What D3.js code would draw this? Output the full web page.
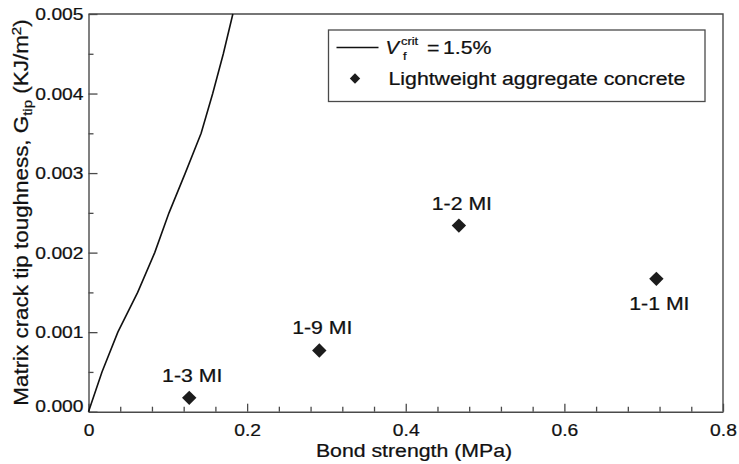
<!DOCTYPE html>
<html>
<head>
<meta charset="utf-8">
<script src="https://cdn.jsdelivr.net/npm/d3@7"></script>
<style>
  html, body { margin: 0; padding: 0; background: #fff; }
  svg { display: block; font-family: "Liberation Sans", Arial, Helvetica, sans-serif; }
</style>
</head>
<body>
<svg id="chart" width="739" height="464"></svg>
<script>
// ---- data ----
const xTickValues = [0, 0.2, 0.4, 0.6, 0.8];
const xTickLabels = ["0", "0.2", "0.4", "0.6", "0.8"];
const yTickValues = [0, 0.001, 0.002, 0.003, 0.004, 0.005];
const yTickLabels = ["0.000", "0.001", "0.002", "0.003", "0.004", "0.005"];
const xMinorTicks = [0.04, 0.08, 0.12, 0.16, 0.24, 0.28, 0.32, 0.36, 0.44, 0.48, 0.52, 0.56, 0.64, 0.68, 0.72, 0.76];
const yMinorTicks = [0.0005, 0.0015, 0.0025, 0.0035, 0.0045];

// V_f^crit = 1.5% curve
const curveBond = [0, 0.017, 0.037, 0.062, 0.0835, 0.1015, 0.122, 0.142, 0.1566, 0.170, 0.182];
const curveToughness = [0, 0.0005, 0.001, 0.0015, 0.002, 0.0025, 0.003, 0.0035, 0.004, 0.0045, 0.005];

// Lightweight aggregate concrete samples
const sampleNames = ["1-3 MI", "1-9 MI", "1-2 MI", "1-1 MI"];
const sampleBond = [0.127, 0.291, 0.467, 0.716];
const sampleToughness = [0.000174, 0.00077, 0.00234, 0.00167];
const sampleLabelSide = ["above", "above", "above", "below"];

// ---- layout ----
const SX = 1.12; // horizontal glyph stretch
const svg = d3.select("#chart");
const plotLeft = 88.5, plotRight = 723, plotTop = 14, plotBottom = 411.7;
const x = d3.scaleLinear().domain([0, 0.8]).range([plotLeft, plotRight]);
const y = d3.scaleLinear().domain([0, 0.005]).range([plotBottom, plotTop]);
const axisColor = "#4a4a4a";
const textColor = "#111";

function stretchedText(parent, px, py, str, opts = {}) {
  const g = parent.append("g")
    .attr("transform", `translate(${px},${py})${opts.rotate ? ` rotate(${opts.rotate})` : ""} scale(${SX},1)`);
  const t = g.append("text")
    .attr("x", 0).attr("y", 0)
    .attr("fill", textColor)
    .attr("stroke", textColor).attr("stroke-width", 0.25)
    .attr("font-size", opts.size || 19)
    .attr("text-anchor", opts.anchor || "start");
  if (opts.italic) t.attr("font-style", "italic");
  if (str !== null) t.text(str);
  return t;
}

// frame (top & right)
svg.append("path")
  .attr("d", `M${plotLeft},${plotTop}H${plotRight}V${plotBottom}`)
  .attr("fill", "none").attr("stroke", axisColor).attr("stroke-width", 1.4);

// bottom axis major
const xAxis = svg.append("g").attr("transform", `translate(0,${plotBottom})`)
  .call(d3.axisBottom(x).tickValues(xTickValues)
    .tickFormat((d, i) => xTickLabels[i]).tickSizeInner(-8).tickSizeOuter(0).tickPadding(12));
// bottom axis minor
svg.append("g").attr("transform", `translate(0,${plotBottom})`)
  .call(d3.axisBottom(x).tickValues(xMinorTicks).tickFormat("").tickSizeInner(-5).tickSizeOuter(0))
  .call(g => g.select(".domain").remove());

// left axis major
const yAxis = svg.append("g").attr("transform", `translate(${plotLeft},0)`)
  .call(d3.axisLeft(y).tickValues(yTickValues)
    .tickFormat((d, i) => yTickLabels[i]).tickSizeInner(-9).tickSizeOuter(0).tickPadding(5));
svg.append("g").attr("transform", `translate(${plotLeft},0)`)
  .call(d3.axisLeft(y).tickValues(yMinorTicks).tickFormat("").tickSizeInner(-5).tickSizeOuter(0))
  .call(g => g.select(".domain").remove());

svg.selectAll(".domain").attr("stroke", axisColor).attr("stroke-width", 1.4);
svg.selectAll(".tick line").attr("stroke", axisColor).attr("stroke-width", 1.3);
svg.selectAll(".tick text")
  .attr("fill", textColor)
  .attr("stroke", textColor).attr("stroke-width", 0.25)
  .attr("font-size", 17.2)
  .attr("font-family", "'Liberation Sans', Arial, sans-serif")
  .attr("transform", `scale(${SX},1)`);
yAxis.selectAll(".tick text").attr("x", -5 / SX)
  .filter(d => d === 0).attr("dy", "0.0em");

// curve
const line = d3.line().x(d => x(d[0])).y(d => y(d[1]));
svg.append("path")
  .datum(curveBond.map((b, i) => [b, curveToughness[i]]))
  .attr("d", line)
  .attr("fill", "none").attr("stroke", "#111").attr("stroke-width", 1.6);

// diamonds
function diamond(r) { return `M0,${-r}L${r},0L0,${r}L${-r},0Z`; }
const samples = sampleNames.map((n, i) => ({ name: n, bx: sampleBond[i], ty: sampleToughness[i], side: sampleLabelSide[i] }));
svg.selectAll(".pt").data(samples).join("path")
  .attr("class", "pt")
  .attr("transform", d => `translate(${x(d.bx)},${y(d.ty)})`)
  .attr("d", diamond(7.2))
  .attr("fill", "#1c1c1c");

samples.forEach(d => {
  const px = x(d.bx) + 3;
  const py = y(d.ty) + (d.side === "above" ? -16 : 31.5);
  stretchedText(svg, px, py, d.name, { anchor: "middle", size: 19 });
});

// axis titles
stretchedText(svg, 414, 457, "Bond strength (MPa)", { anchor: "middle", size: 19 });
const yt = stretchedText(svg, 28, 212.5, null, { anchor: "middle", size: 20, rotate: -90 });
yt.append("tspan").text("Matrix crack tip toughness, G");
yt.append("tspan").attr("font-size", 13.5).attr("dy", 4).text("tip");
yt.append("tspan").attr("dy", -4).text(" (KJ/m");
yt.append("tspan").attr("font-size", 13.5).attr("dy", -7).text("2");
yt.append("tspan").attr("dy", 7).text(")");

// legend
const lg = svg.append("g");
lg.append("rect").attr("x", 328.5).attr("y", 30).attr("width", 376.5).attr("height", 71.5)
  .attr("fill", "#fff").attr("stroke", axisColor).attr("stroke-width", 1.3);
lg.append("line").attr("x1", 336.5).attr("x2", 378.5).attr("y1", 47.5).attr("y2", 47.5)
  .attr("stroke", "#111").attr("stroke-width", 1.6);
stretchedText(lg, 385.5, 53.5, "V", { size: 18, italic: true });
stretchedText(lg, 401, 44.5, "crit", { size: 11.5 });
stretchedText(lg, 403, 60, "f", { size: 11.5 });
stretchedText(lg, 427, 53.5, "=", { size: 19 });
stretchedText(lg, 443, 53.5, "1.5%", { size: 19 });
lg.append("path").attr("transform", "translate(355,78.5)").attr("d", diamond(5.2)).attr("fill", "#1c1c1c");
stretchedText(lg, 388.5, 85, "Lightweight aggregate concrete", { size: 19 });
</script>
</body>
</html>
